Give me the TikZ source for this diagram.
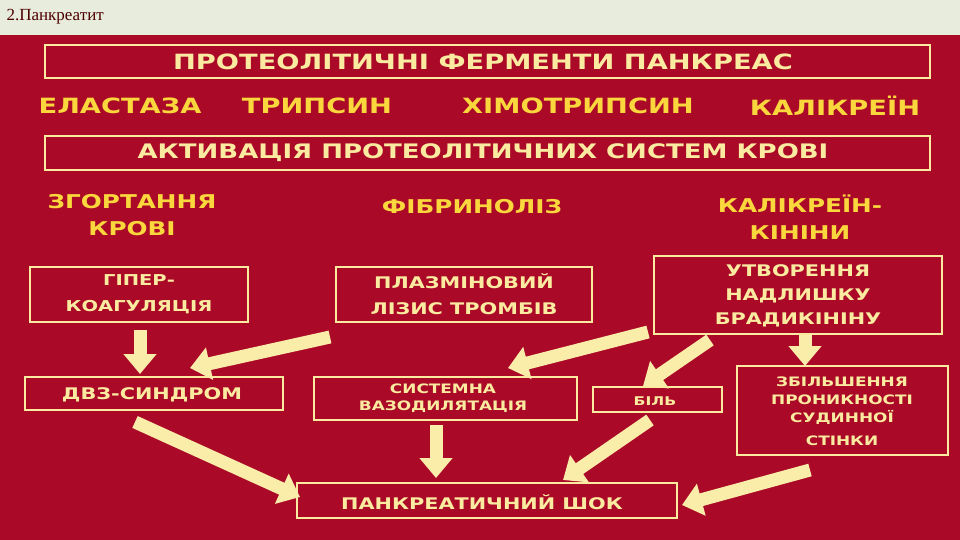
\documentclass[tikz,border=0pt]{standalone}
\usepackage{fontspec}
\setmainfont{DejaVu Sans}[FakeStretch=1.3]
\newfontfamily\serfont{Liberation Serif}
\usetikzlibrary{arrows.meta}
\definecolor{bg}{RGB}{170,10,40}
\definecolor{cream}{RGB}{250,235,160}
\definecolor{yel}{RGB}{250,215,60}
\definecolor{topbg}{RGB}{232,236,220}
\newcommand{\fs}[2]{\bfseries\fontsize{#1}{#2}\selectfont}
\tikzset{
 bx/.style={draw=cream,line width=1.3pt,inner sep=0pt},
 tx/.style={text=cream,align=center,inner sep=0pt},
 hd/.style={text=yel,align=center,inner sep=0pt},
 ar/.style={draw=cream!90!white,line width=13pt,-{Triangle[length=20pt,width=32pt]}}
}
\begin{document}
\begin{tikzpicture}[x=1pt,y=-1pt]
\fill[topbg] (0,0) rectangle (960,35);
\fill[bg] (0,35) rectangle (960,540);
\useasboundingbox (0,0) rectangle (960,540);
\node[anchor=west,font=\serfont\fontsize{17}{19}\selectfont,text=black!70!red] (title) at (3,17) {2.Панкреатит};
\draw[bx] (45,45) rectangle (930,78); \node[tx,font=\fs{21}{22}] (b1) at (483,62) {ПРОТЕОЛІТИЧНІ ФЕРМЕНТИ ПАНКРЕАС};
\node[hd,font=\fs{21}{22}] (e1) at (120,106) {ЕЛАСТАЗА};
\node[hd,font=\fs{21}{22}] (e2) at (317,106) {ТРИПСИН};
\node[hd,font=\fs{21}{22}] (e3) at (578,106) {ХІМОТРИПСИН};
\node[hd,font=\fs{21}{22}] (e4) at (835,106) {КАЛІКРЕЇН};
\draw[bx] (45,136) rectangle (930,170); \node[tx,font=\fs{20}{22}] (b2) at (483,153) {АКТИВАЦІЯ ПРОТЕОЛІТИЧНИХ СИСТЕМ КРОВІ};
\node[hd,font=\fs{19}{27}] (c1) at (132,215) {ЗГОРТАННЯ\\КРОВІ};
\node[hd,font=\fs{19}{27}] (c2) at (472,207) {ФІБРИНОЛІЗ};
\node[hd,font=\fs{19}{27}] (c3) at (800,217) {КАЛІКРЕЇН-\\КІНІНИ};
\draw[bx] (30,267) rectangle (248,322); \node[tx,font=\fs{15}{26}] (g) at (139,294) {ГІПЕР-\\КОАГУЛЯЦІЯ};
\draw[bx] (336,267) rectangle (592,322); \node[tx,font=\fs{16}{26}] (p) at (464,294) {ПЛАЗМІНОВИЙ\\ЛІЗИС ТРОМБІВ};
\draw[bx] (654,256) rectangle (942,334); \node[tx,font=\fs{16}{24}] (u) at (798,296) {УТВОРЕННЯ\\НАДЛИШКУ\\БРАДИКІНІНУ};
\draw[bx] (25,377) rectangle (283,410); \node[tx,font=\fs{16}{18}] (d) at (152,395) {ДВЗ-СИНДРОМ};
\draw[bx] (314,377) rectangle (577,420); \node[tx,font=\fs{13}{17}] (s) at (443,398) {СИСТЕМНА\\ВАЗОДИЛЯТАЦІЯ};
\draw[bx] (593,387) rectangle (722,412); \node[tx,font=\fs{12}{14}] (bil) at (655,401) {БІЛЬ};
\draw[bx] (737,366) rectangle (948,455); \node[tx,font=\fs{13}{18}] (z) at (842,411) {ЗБІЛЬШЕННЯ\\ПРОНИКНОСТІ\\СУДИННОЇ\\[5pt]СТІНКИ};
\draw[bx] (297,483) rectangle (677,518); \node[tx,font=\fs{16}{18}] (sh) at (482,502) {ПАНКРЕАТИЧНИЙ ШОК};
\coordinate (a1s) at (140,330); \coordinate (a1e) at (140,374);
\coordinate (a2s) at (330,337); \coordinate (a2e) at (190,368);
\coordinate (a3s) at (648,332); \coordinate (a3e) at (508,368);
\coordinate (a4s) at (710,340); \coordinate (a4e) at (643,386);
\coordinate (a5s) at (805,335); \coordinate (a5e) at (805,366);
\coordinate (a6s) at (135,422); \coordinate (a6e) at (300,497);
\coordinate (a7s) at (436,425); \coordinate (a7e) at (436,478);
\coordinate (a8s) at (650,420); \coordinate (a8e) at (563,480);
\coordinate (a9s) at (810,470); \coordinate (a9e) at (682,505);
\foreach \i in {1,...,9} \draw[ar] (a\i s) -- (a\i e);
\end{tikzpicture}
\end{document}
